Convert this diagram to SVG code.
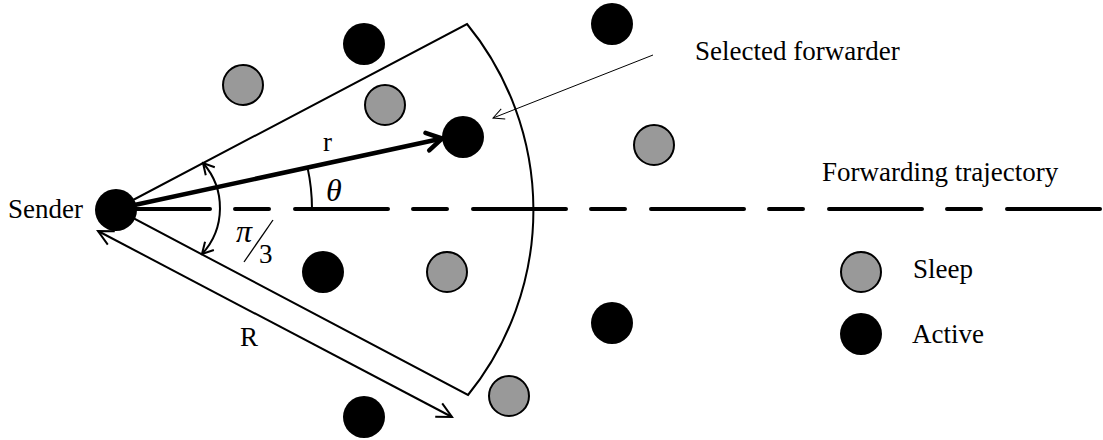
<svg xmlns="http://www.w3.org/2000/svg" width="1103" height="440" viewBox="0 0 1103 440">
  <style>
    .txt { font-family: "Liberation Serif", "Times New Roman", serif; font-size: 27px; fill: #000; }
    .math { font-family: "Liberation Serif", "Times New Roman", serif; font-style: italic; fill: #000; }
    .active { fill: #000; }
    .sleep { fill: #999999; stroke: #000; stroke-width: 2; }
    .edge { fill: none; stroke: #000; stroke-width: 2; }
  </style>
  <defs>
    <marker id="open" viewBox="-18 -10 20 20" markerWidth="20" markerHeight="20" refX="0" refY="0" orient="auto-start-reverse" markerUnits="userSpaceOnUse">
      <path d="M-15,-7.5 L0,0 L-15,7.5" fill="none" stroke="#000" stroke-width="2"/>
    </marker>
    <marker id="openSmall" viewBox="-14 -8 16 16" markerWidth="16" markerHeight="16" refX="0" refY="0" orient="auto-start-reverse" markerUnits="userSpaceOnUse">
      <path d="M-11,-6 L0,0 L-11,6" fill="none" stroke="#000" stroke-width="2"/>
    </marker>
    <marker id="openThin" viewBox="-14 -8 16 16" markerWidth="16" markerHeight="16" refX="0" refY="0" orient="auto" markerUnits="userSpaceOnUse">
      <path d="M-11,-5.5 L0,0 L-11,5.5" fill="none" stroke="#000" stroke-width="1"/>
    </marker>
    <marker id="openThick" viewBox="-20 -12 24 24" markerWidth="24" markerHeight="24" refX="0" refY="0" orient="auto" markerUnits="userSpaceOnUse">
      <path d="M-15,-9 L0,0 L-15,9" fill="none" stroke="#000" stroke-width="4.5" stroke-linecap="round" stroke-linejoin="round"/>
    </marker>
  </defs>

  <rect x="0" y="0" width="1103" height="440" fill="#fff"/>

  <!-- transmission sector of the sender -->
  <g id="sector">
    <path class="edge" d="M116,209 L467,24 A294,294 0 0 1 468,395 Z"/>
  </g>

  <g id="connectors">
    <!-- forwarding trajectory -->
    <line x1="117" y1="209" x2="1110" y2="209" stroke="#000" stroke-width="4" stroke-linecap="round" stroke-dasharray="93 25 34 26"/>
    <!-- r: sender to selected forwarder -->
    <line x1="116" y1="209" x2="442" y2="138.5" stroke="#000" stroke-width="4.5" marker-end="url(#openThick)"/>
    <!-- sector opening angle pi/3 -->
    <path class="edge" d="M203,163 A68,68 0 0 1 202,254" marker-start="url(#openSmall)" marker-end="url(#openSmall)"/>
    <!-- theta -->
    <path class="edge" d="M307.5,167.4 A196,196 0 0 1 312,209"/>
    <!-- R: sector radius -->
    <line class="edge" x1="98" y1="231" x2="452" y2="417" marker-start="url(#open)" marker-end="url(#open)"/>
    <!-- pointer to the selected forwarder -->
    <line x1="653" y1="55" x2="493" y2="118" stroke="#000" stroke-width="1" marker-end="url(#openThin)"/>
  </g>

  <!-- nodes -->
  <g id="sender"><circle class="active" cx="116" cy="210" r="21"/></g>
  <g id="forwarder"><circle class="active" cx="463" cy="137" r="21"/></g>
  <g id="node-a1"><circle class="active" cx="364" cy="44" r="21"/></g>
  <g id="node-a2"><circle class="active" cx="612" cy="24" r="21"/></g>
  <g id="node-a3"><circle class="active" cx="323" cy="272" r="21"/></g>
  <g id="node-a4"><circle class="active" cx="612" cy="323" r="21"/></g>
  <g id="node-a5"><circle class="active" cx="364" cy="417" r="21"/></g>
  <g id="node-s1"><circle class="sleep" cx="243" cy="85" r="20"/></g>
  <g id="node-s2"><circle class="sleep" cx="385" cy="105" r="20"/></g>
  <g id="node-s3"><circle class="sleep" cx="654" cy="145" r="20"/></g>
  <g id="node-s4"><circle class="sleep" cx="447" cy="272" r="20"/></g>
  <g id="node-s5"><circle class="sleep" cx="509" cy="396" r="20"/></g>

  <!-- labels -->
  <g id="labels">
    <text class="txt" x="8" y="218">Sender</text>
    <text class="txt" x="695" y="60">Selected forwarder</text>
    <text class="txt" x="822" y="181">Forwarding trajectory</text>
    <text class="txt" x="323" y="151">r</text>
    <text class="txt" x="240" y="346">R</text>
    <text class="math" x="326" y="201" font-size="32">θ</text>
    <text class="math" x="236" y="242" font-size="32">π</text>
    <line x1="244" y1="262" x2="273" y2="220" stroke="#000" stroke-width="1.3"/>
    <text class="txt" x="259" y="263">3</text>
  </g>

  <!-- legend -->
  <g id="legend-sleep">
    <circle class="sleep" cx="861" cy="272" r="20"/>
    <text class="txt" x="913" y="278">Sleep</text>
  </g>
  <g id="legend-active">
    <circle class="active" cx="861" cy="334" r="21"/>
    <text class="txt" x="912" y="343">Active</text>
  </g>
</svg>
